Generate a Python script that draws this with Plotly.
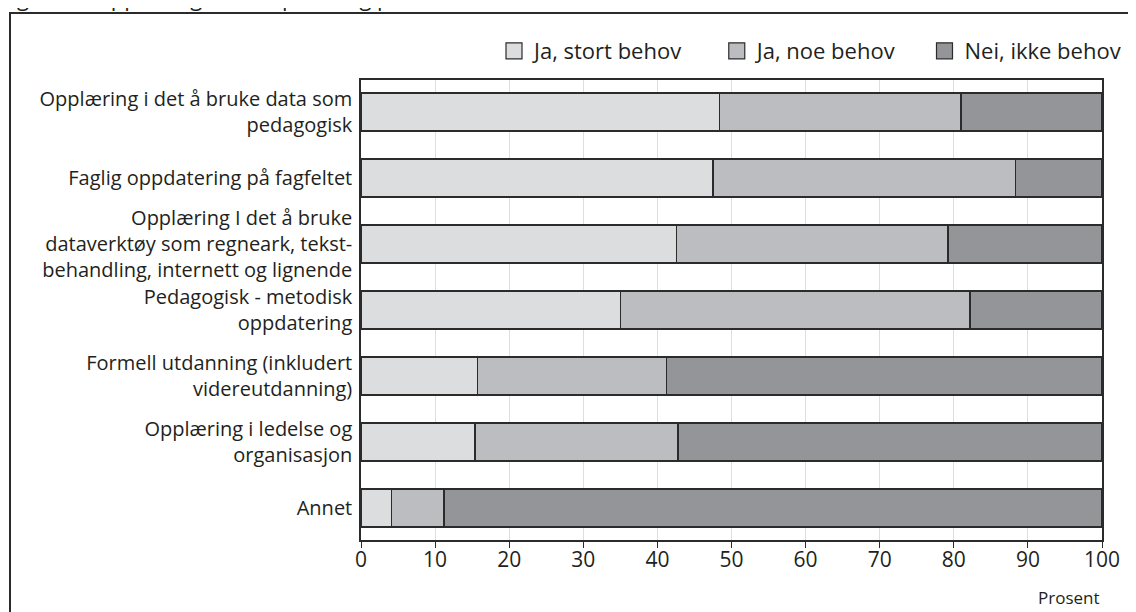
import plotly.graph_objects as go

categories = [
    "Opplæring i det å bruke data som<br>pedagogisk",
    "Faglig oppdatering på fagfeltet",
    "Opplæring I det å bruke<br>dataverktøy som regneark, tekst-<br>behandling, internett og lignende",
    "Pedagogisk - metodisk<br>oppdatering",
    "Formell utdanning (inkludert<br>videreutdanning)",
    "Opplæring i ledelse og<br>organisasjon",
    "Annet",
]
stort_behov = [48.4, 47.5, 42.6, 35.0, 15.7, 15.4, 4.1]
noe_behov = [32.6, 40.8, 36.6, 47.2, 25.5, 27.4, 7.1]
ikke_behov = [19.0, 11.7, 20.8, 17.8, 58.8, 57.2, 88.8]

series = [
    ("Ja, stort behov", stort_behov, "#dcdddf"),
    ("Ja, noe behov", noe_behov, "#bcbdc0"),
    ("Nei, ikke behov", ikke_behov, "#939598"),
]

FONT = "Open Sans, Noto Sans, sans-serif"
EDGE = "#2b2b2b"
TXT = "#231f20"
NBSP = "\u00a0"

# figure is drawn 8px in from the page corner (body margin)
W, H = 1128, 604
L, R, T, B = 353, 34, 72, 72
PW, PH = W - L - R, H - T - B


def px_x(x):  # figure pixel -> paper x
    return (x - L) / PW


def px_y(y):  # figure pixel -> paper y
    return (H - B - y) / PH


fig = go.Figure()
for name, vals, col in series:
    fig.add_trace(go.Bar(
        y=categories, x=vals, name=name, orientation="h",
        marker=dict(color=col, line=dict(color=EDGE, width=1.5)),
        width=0.58, showlegend=False,
    ))
pads = [5, 4, 0]
for (name, vals, col), p in zip(series, pads):
    fig.add_trace(go.Scatter(
        x=[None], y=[None], mode="markers", name=name + NBSP * p,
        marker=dict(symbol="square", size=16, color=col, line=dict(color=EDGE, width=1.2)),
    ))

annotations = [
    dict(text="Prosent", xref="paper", yref="paper", x=1.0, y=px_y(603),
         xanchor="right", yanchor="bottom", showarrow=False, font=dict(size=17)),
    dict(text="Figur 6.7 Opplæringsbehov per i dag på ulike områder 1999", xref="paper",
         yref="paper", x=px_x(-10), y=px_y(6), xanchor="left", yanchor="bottom",
         showarrow=False, font=dict(size=22)),
]

fig.update_layout(
    barmode="stack",
    width=W, height=H,
    margin=dict(l=L, r=R, t=T, b=B, autoexpand=False),
    paper_bgcolor="white", plot_bgcolor="white",
    font=dict(family=FONT, size=20, color=TXT),
    showlegend=True,
    legend=dict(orientation="h", x=px_x(1118), xanchor="right", y=px_y(43), yanchor="middle",
                font=dict(size=22), traceorder="normal", itemsizing="trace",
                bgcolor="rgba(0,0,0,0)", itemclick=False),
    xaxis=dict(range=[0, 100], dtick=10, showgrid=True, gridcolor="#dedede", gridwidth=1,
               showline=True, linecolor=EDGE, linewidth=1.5, mirror=True,
               ticks="outside", ticklen=6, tickcolor=EDGE,
               tickfont=dict(size=21), ticklabelstandoff=-6, zeroline=False, automargin=False),
    yaxis=dict(autorange=False, range=[6.485, -0.485], showline=True, linecolor=EDGE,
               linewidth=1.5, mirror=True, ticks="", tickfont=dict(size=20),
               ticklabelstandoff=3, automargin=False),
    shapes=[dict(type="rect", xref="paper", yref="paper",
                 x0=px_x(2), x1=px_x(1126), y0=px_y(700), y1=px_y(5),
                 line=dict(color=EDGE, width=2), fillcolor="rgba(0,0,0,0)", layer="below")],
    annotations=annotations,
)

fig.write_html("out.html")
